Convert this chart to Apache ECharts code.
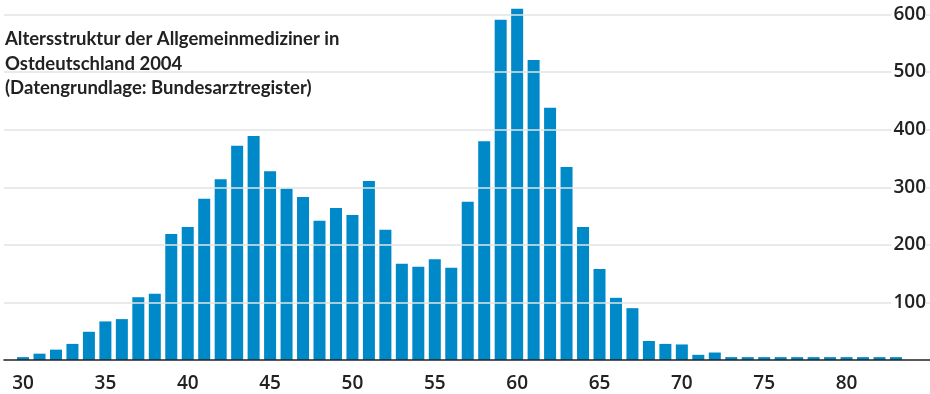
<!DOCTYPE html>
<html>
<head>
<meta charset="utf-8">
<script src="https://cdn.jsdelivr.net/npm/echarts@6/dist/echarts.min.js"></script>
<style>
  html, body { margin: 0; padding: 0; background: #fff; }
  #chart { width: 930px; height: 394px; }
</style>
</head>
<body>
<div id="chart"></div>
<script>
// Ages of the physicians (one bar per year of age)
const ages = [];
for (let a = 30; a <= 83; a++) ages.push(String(a));

// Number of general practitioners per age
const counts = [
  5, 11, 18, 28, 49, 67, 71, 109, 115, 219,
  231, 280, 314, 372, 389, 328, 298, 283, 242, 264,
  252, 311, 226, 167, 162, 175, 160, 275, 380, 591,
  610, 521, 438, 335, 231, 158, 108, 90, 33, 28,
  27, 9, 13, 5, 5, 5, 5, 5, 5, 5,
  5, 5, 5, 5
];

// Labelled ages on the horizontal axis
const xTickAges = ['30', '35', '40', '45', '50', '55', '60', '65', '70', '75', '80'];

const titleLines = [
  'Altersstruktur der Allgemeinmediziner in',
  'Ostdeutschland 2004',
  '(Datengrundlage: Bundesarztregister)'
];

const yMax = 600;
const yStep = 100;

const chart = echarts.init(document.getElementById('chart'), null, { renderer: 'canvas' });

const labelFont = "'Open Sans', 'Noto Sans', sans-serif";

chart.setOption({
  animation: false,
  backgroundColor: '#ffffff',
  title: {
    text: titleLines.join('\n'),
    left: 5,
    top: 27,
    padding: 0,
    textStyle: {
      fontFamily: "Lato, 'DejaVu Sans Condensed', sans-serif",
      fontSize: 18.5,
      fontWeight: 'bold',
      color: '#222222',
      lineHeight: 24.5
    }
  },
  grid: [
    // plotting area for the bars
    { left: 14.8, right: 25.8, top: 14.5, bottom: 34 },
    // wider area carrying the horizontal rules and value labels
    { left: 4, right: 0, top: 14.5, bottom: 34 }
  ],
  xAxis: [
    {
      type: 'category',
      gridIndex: 0,
      data: ages,
      axisLine: { show: false },
      axisTick: { show: false },
      axisLabel: {
        interval: (idx, val) => xTickAges.indexOf(val) !== -1,
        margin: 14,
        fontFamily: labelFont,
        fontSize: 19,
        fontWeight: 600,
        color: '#222222'
      },
      splitLine: { show: false }
    },
    {
      type: 'value',
      gridIndex: 1,
      min: 0,
      max: 1,
      z: 6,
      axisLine: { show: true, lineStyle: { color: '#222222', width: 1.6 } },
      axisTick: { show: false },
      axisLabel: { show: false },
      splitLine: { show: false }
    }
  ],
  yAxis: [
    {
      type: 'value',
      gridIndex: 0,
      min: 0,
      max: yMax,
      interval: yStep,
      show: false
    },
    {
      type: 'value',
      gridIndex: 1,
      position: 'right',
      min: 0,
      max: yMax,
      interval: yStep,
      z: 5,
      axisLine: { show: false },
      axisTick: { show: false },
      axisLabel: {
        inside: true,
        margin: 4,
        showMinLabel: false,
        fontFamily: labelFont,
        fontSize: 19,
        fontWeight: 600,
        color: '#222222',
        backgroundColor: '#ffffff',
        padding: [0, 0, 0, 2]
      },
      splitLine: {
        show: true,
        showMinLine: false,
        lineStyle: { color: '#e1e5e5', width: 1.5 }
      }
    }
  ],
  series: [
    {
      type: 'bar',
      xAxisIndex: 0,
      yAxisIndex: 0,
      data: counts,
      barWidth: 12,
      clip: false,
      itemStyle: { color: '#0089c8' }
    }
  ]
});
</script>
</body>
</html>
